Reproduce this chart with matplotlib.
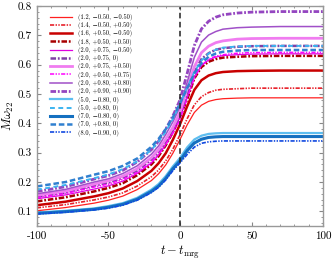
import matplotlib
matplotlib.use("Agg")
import matplotlib.pyplot as plt
from matplotlib.ticker import MultipleLocator

plt.rcParams['font.family'] = ['cmr10', 'DejaVu Serif']
plt.rcParams['mathtext.fontset'] = 'cm'
plt.rcParams['axes.unicode_minus'] = False
plt.rcParams['axes.formatter.use_mathtext'] = False
plt.rcParams['lines.scale_dashes'] = False

t = [-100, -80, -60, -50, -40, -30, -20, -15, -10, -5, 0, 5, 10, 15, 20, 25, 30, 40, 50, 70, 100]

w_12 = [0.102, 0.113, 0.128, 0.138, 0.152, 0.174, 0.205, 0.228, 0.258, 0.298, 0.345, 0.395, 0.437, 0.462, 0.475, 0.481, 0.484, 0.486, 0.487, 0.487, 0.487]
w_14 = [0.112, 0.123, 0.139, 0.149, 0.163, 0.186, 0.218, 0.241, 0.272, 0.312, 0.361, 0.416, 0.463, 0.491, 0.505, 0.513, 0.516, 0.518, 0.520, 0.520, 0.520]
w_16 = [0.121, 0.133, 0.151, 0.162, 0.178, 0.203, 0.238, 0.264, 0.298, 0.344, 0.397, 0.458, 0.514, 0.547, 0.563, 0.571, 0.575, 0.578, 0.579, 0.580, 0.580]
w_18 = [0.134, 0.148, 0.168, 0.180, 0.196, 0.223, 0.260, 0.288, 0.325, 0.370, 0.423, 0.482, 0.553, 0.592, 0.610, 0.619, 0.624, 0.627, 0.629, 0.630, 0.630]
w_2a = [0.143, 0.156, 0.176, 0.187, 0.203, 0.229, 0.265, 0.292, 0.327, 0.370, 0.422, 0.490, 0.557, 0.597, 0.616, 0.626, 0.631, 0.634, 0.636, 0.637, 0.637]
w_2b = [0.150, 0.164, 0.188, 0.198, 0.215, 0.239, 0.277, 0.303, 0.339, 0.380, 0.427, 0.503, 0.574, 0.619, 0.639, 0.651, 0.656, 0.661, 0.663, 0.664, 0.664]
w_2c = [0.155, 0.169, 0.193, 0.204, 0.220, 0.245, 0.283, 0.310, 0.346, 0.386, 0.437, 0.518, 0.593, 0.641, 0.663, 0.675, 0.681, 0.687, 0.689, 0.690, 0.690]
w_2d = [0.147, 0.161, 0.183, 0.193, 0.209, 0.233, 0.268, 0.294, 0.328, 0.366, 0.413, 0.486, 0.555, 0.598, 0.618, 0.629, 0.634, 0.639, 0.641, 0.642, 0.642]
w_2e = [0.160, 0.175, 0.200, 0.211, 0.229, 0.255, 0.295, 0.323, 0.362, 0.405, 0.456, 0.540, 0.625, 0.677, 0.701, 0.713, 0.721, 0.726, 0.728, 0.730, 0.730]
w_2f = [0.168, 0.184, 0.210, 0.222, 0.240, 0.268, 0.310, 0.339, 0.380, 0.425, 0.480, 0.570, 0.665, 0.722, 0.748, 0.762, 0.770, 0.776, 0.779, 0.781, 0.781]
w_5a = [0.096, 0.102, 0.110, 0.118, 0.128, 0.146, 0.174, 0.193, 0.220, 0.253, 0.282, 0.318, 0.345, 0.358, 0.364, 0.366, 0.367, 0.367, 0.367, 0.367, 0.367]
w_5b = [0.174, 0.190, 0.213, 0.226, 0.244, 0.270, 0.310, 0.338, 0.372, 0.415, 0.465, 0.522, 0.575, 0.614, 0.638, 0.651, 0.658, 0.662, 0.664, 0.664, 0.664]
w_7a = [0.093, 0.099, 0.107, 0.114, 0.124, 0.141, 0.168, 0.186, 0.212, 0.245, 0.272, 0.307, 0.333, 0.346, 0.352, 0.354, 0.355, 0.355, 0.355, 0.355, 0.355]
w_7b = [0.185, 0.200, 0.225, 0.237, 0.255, 0.280, 0.320, 0.347, 0.380, 0.420, 0.468, 0.520, 0.570, 0.605, 0.627, 0.638, 0.644, 0.648, 0.650, 0.650, 0.650]
w_8a = [0.091, 0.097, 0.105, 0.111, 0.121, 0.138, 0.164, 0.182, 0.207, 0.239, 0.265, 0.294, 0.319, 0.332, 0.337, 0.339, 0.340, 0.340, 0.340, 0.340, 0.340]

labels = ['(1.2, \u22120.50, \u22120.50)', '(1.4, \u22120.50, +0.50)', '(1.6, +0.50, \u22120.50)',
          '(1.8, +0.50, +0.50)', '(2.0, +0.75, \u22120.50)', '(2.0, +0.75, 0)',
          '(2.0, +0.75, +0.50)', '(2.0, +0.50, +0.75)', '(2.0, +0.80, +0.80)',
          '(2.0, +0.90, +0.90)', '(5.0, \u22120.80, 0)', '(5.0, +0.80, 0)',
          '(7.0, \u22120.80, 0)', '(7.0, +0.80, 0)', '(8.0, \u22120.90, 0)']
series = [w_12, w_14, w_16, w_18, w_2a, w_2b, w_2c, w_2d, w_2e, w_2f, w_5a, w_5b, w_7a, w_7b, w_8a]

colors = ['#ff2020', '#e8202a', '#c80000', '#a80000', '#e000e0', '#7f3fa5', '#f07cf0',
          '#ff00ff', '#a050c8', '#9445c0', '#5ebef0', '#3cb4f0', '#1570c0', '#3080d0', '#1048e0']
dd = (0, (3, 1, 1, 1, 1, 1))
da = (0, (4, 1.3, 1.3, 1.3))
styles = ['-', dd, '-', da, '-', da, '-', dd, '-', da, '-', (0, (3.5, 2.5)), '-', (0, (4, 2)), dd]
widths = [0.9, 1.2, 1.8, 1.8, 0.9, 1.8, 2.0, 1.1, 1.1, 2.0, 1.6, 1.4, 2.2, 1.8, 1.2]

fig = plt.figure(figsize=(3.32, 2.61), dpi=100)
ax = fig.add_axes([0.1114, 0.134, 0.8616, 0.843])

for y, lab, c, ls, lw in zip(series, labels, colors, styles, widths):
    ax.plot(t, y, color=c, linestyle=ls, linewidth=lw, label=lab)

ax.axvline(0, color='#222222', linestyle=(0, (4, 2.5)), linewidth=1.1)

ax.set_xlim(-100, 100)
ax.set_ylim(0.05, 0.8)
ax.xaxis.set_major_locator(MultipleLocator(50))
ax.xaxis.set_minor_locator(MultipleLocator(10))
ax.yaxis.set_major_locator(MultipleLocator(0.1))
ax.yaxis.set_minor_locator(MultipleLocator(0.02))
ax.tick_params(which='both', direction='in', top=True, right=True, color='#888888',
               labelsize=8, pad=4)
ax.tick_params(which='major', length=3, width=0.8)
ax.tick_params(which='minor', length=1.6, width=0.6)
for s in ax.spines.values():
    s.set_color('#999999')
    s.set_linewidth(1.0)

ax.set_xlabel(r'$t - t_{\rm mrg}$', fontsize=9, labelpad=2)
ax.set_ylabel(r'$M\omega_{22}$', fontsize=9, labelpad=1)

ax.legend(loc='upper left', fontsize=4.6, frameon=False, handlelength=3.5,
          handletextpad=0.8, labelspacing=0.2, borderaxespad=0.3,
          bbox_to_anchor=(0.03, 0.985))

fig.savefig('out.png', dpi=100)
